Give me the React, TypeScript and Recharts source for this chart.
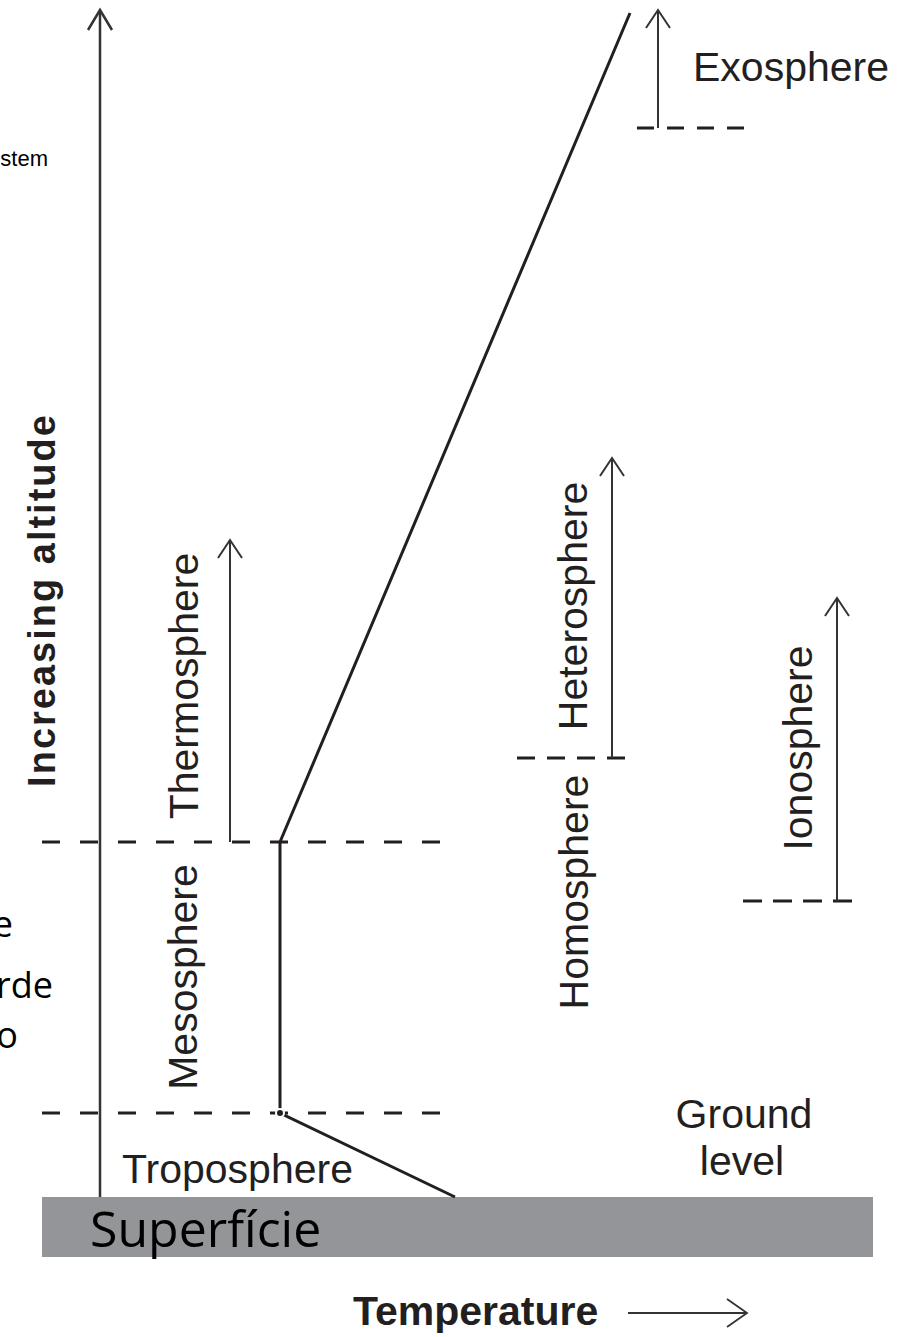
import React from 'react';
import { ComposedChart, Line, XAxis, YAxis, ReferenceLine, ReferenceArea, ReferenceDot } from 'recharts';

// temperature profile (temperature units, altitude units; 0 = ground level)
const profileTemp = [455, 280, 280, 630];
const profileAlt = [0, 84, 355, 1184];

// layer boundaries (altitude)
const tropopauseAlt = 84;
const mesopauseAlt = 355;
const homopauseAlt = 439;
const ionosphereBaseAlt = 296;
const exobaseAlt = 1069;

// top of the layer arrows (altitude)
const thermoTopAlt = 657;
const heteroTopAlt = 739;
const ionoTopAlt = 599;
const exoTopAlt = 1187;
const axisTopAlt = 1187;

const profileData = profileTemp.map((t, i) => ({ temp: t, alt: profileAlt[i] }));

const INK = '#231f20';
const FONT = '"Liberation Sans", Arial, sans-serif';
const SLIDE_FONT = '"Open Sans", "Noto Sans", sans-serif';

const ArrowShape = (props: any) => {
    const { x1, y1, x2, y2, stroke, strokeWidth, headLen = 18, headHalf = 12 } = props;
    const dx = x2 - x1;
    const dy = y2 - y1;
    const len = Math.sqrt(dx * dx + dy * dy) || 1;
    const ux = dx / len;
    const uy = dy / len;
    const bx = x2 - ux * headLen;
    const by = y2 - uy * headLen;
    const px = -uy * headHalf;
    const py = ux * headHalf;
    return (
        <g>
            <line x1={x1} y1={y1} x2={x2} y2={y2} stroke={stroke} strokeWidth={strokeWidth} />
            <polyline
                points={`${bx + px},${by + py} ${x2},${y2} ${bx - px},${by - py}`}
                fill="none"
                stroke={stroke}
                strokeWidth={strokeWidth}
            />
        </g>
    );
};

const label = (text: string, opts: any = {}) => (p: any) => {
    const { cx, cy } = p;
    const { anchor = 'start', size = 41, weight = 'normal', rotate = false, family = FONT, fill = INK, spacing = 0 } = opts;
    return (
        <text
            x={cx}
            y={cy}
            textAnchor={rotate ? 'middle' : anchor}
            fontSize={size}
            fontWeight={weight}
            fontFamily={family}
            fill={fill}
            letterSpacing={spacing}
            transform={rotate ? `rotate(-90 ${cx} ${cy})` : undefined}
        >
            {text}
        </text>
    );
};

const arrow = (head = 18, half = 12) => (p: any) => <ArrowShape {...p} headLen={head} headHalf={half} />;

export default function App() {
    return (
        <div style={{ width: 911, height: 1337, background: '#fff' }}>
            <style>{'body{margin:0}'}</style>
            <ComposedChart width={911} height={1337} margin={{ top: 0, right: 0, bottom: 0, left: 0 }}>
                <XAxis type="number" dataKey="temp" domain={[0, 911]} hide allowDataOverflow />
                <YAxis type="number" domain={[-140, 1197]} hide allowDataOverflow />

                {/* ground */}
                <ReferenceArea x1={42} x2={873} y1={-60} y2={0} fill="#939598" fillOpacity={1} stroke="none" />

                {/* boundaries */}
                <ReferenceLine segment={[{ x: 42, y: mesopauseAlt }, { x: 440, y: mesopauseAlt }]} stroke={INK} strokeWidth={3} strokeDasharray="18 20" />
                <ReferenceLine segment={[{ x: 42, y: tropopauseAlt }, { x: 440, y: tropopauseAlt }]} stroke={INK} strokeWidth={3} strokeDasharray="18 20" />
                <ReferenceLine segment={[{ x: 517, y: homopauseAlt }, { x: 627, y: homopauseAlt }]} stroke={INK} strokeWidth={3} strokeDasharray="18 12" />
                <ReferenceLine segment={[{ x: 743, y: ionosphereBaseAlt }, { x: 852, y: ionosphereBaseAlt }]} stroke={INK} strokeWidth={3} strokeDasharray="19 11" />
                <ReferenceLine segment={[{ x: 637, y: exobaseAlt }, { x: 745, y: exobaseAlt }]} stroke={INK} strokeWidth={3} strokeDasharray="17 13" />

                {/* arrows */}
                <ReferenceLine segment={[{ x: 100, y: 0 }, { x: 100, y: axisTopAlt }]} stroke="#333" strokeWidth={2.5} shape={arrow(20, 12)} />
                <ReferenceLine segment={[{ x: 230, y: mesopauseAlt }, { x: 230, y: thermoTopAlt }]} stroke="#333" strokeWidth={2} shape={arrow()} />
                <ReferenceLine segment={[{ x: 612, y: homopauseAlt }, { x: 612, y: heteroTopAlt }]} stroke="#333" strokeWidth={2} shape={arrow()} />
                <ReferenceLine segment={[{ x: 837, y: ionosphereBaseAlt }, { x: 837, y: ionoTopAlt }]} stroke="#333" strokeWidth={2} shape={arrow()} />
                <ReferenceLine segment={[{ x: 658, y: exobaseAlt }, { x: 658, y: exoTopAlt }]} stroke="#333" strokeWidth={2} shape={arrow()} />
                <ReferenceLine segment={[{ x: 628, y: -116 }, { x: 747, y: -116 }]} stroke="#333" strokeWidth={1.8} shape={arrow(20, 14)} />

                {/* temperature profile */}
                <Line data={profileData} dataKey="alt" type="linear" dot={false} stroke={INK} strokeWidth={3} isAnimationActive={false} />

                {/* labels */}
                <ReferenceDot x={693} y={1116} r={0} shape={label('Exosphere')} />
                <ReferenceDot x={122} y={14} r={0} shape={label('Troposphere')} />
                <ReferenceDot x={744} y={69} r={0} shape={label('Ground', { anchor: 'middle' })} />
                <ReferenceDot x={742} y={22} r={0} shape={label('level', { anchor: 'middle' })} />
                <ReferenceDot x={353} y={-128} r={0} shape={label('Temperature', { weight: 'bold' })} />
                <ReferenceDot x={90} y={-50} r={0} shape={label('Superfície', { size: 50, family: SLIDE_FONT, fill: '#000' })} />

                <ReferenceDot x={55} y={597} r={0} shape={label('Increasing altitude', { rotate: true, weight: 'bold', size: 38, spacing: 2 })} />
                <ReferenceDot x={198} y={511} r={0} shape={label('Thermosphere', { rotate: true })} />
                <ReferenceDot x={197} y={220} r={0} shape={label('Mesosphere', { rotate: true })} />
                <ReferenceDot x={587} y={591} r={0} shape={label('Heterosphere', { rotate: true })} />
                <ReferenceDot x={588} y={305} r={0} shape={label('Homosphere', { rotate: true })} />
                <ReferenceDot x={812} y={449} r={0} shape={label('Ionosphere', { rotate: true })} />

                {/* fragments of the slide behind */}
                <ReferenceDot x={48} y={1031} r={0} shape={label('stem', { anchor: 'end', size: 22, fill: '#000' })} />
                <ReferenceDot x={13} y={260} r={0} shape={label('e', { anchor: 'end', size: 36, family: SLIDE_FONT, fill: '#000' })} />
                <ReferenceDot x={53} y={199} r={0} shape={label('rde', { anchor: 'end', size: 36, family: SLIDE_FONT, fill: '#000' })} />
                <ReferenceDot x={18} y={149} r={0} shape={label('o', { anchor: 'end', size: 36, family: SLIDE_FONT, fill: '#000' })} />
            </ComposedChart>
        </div>
    );
}
